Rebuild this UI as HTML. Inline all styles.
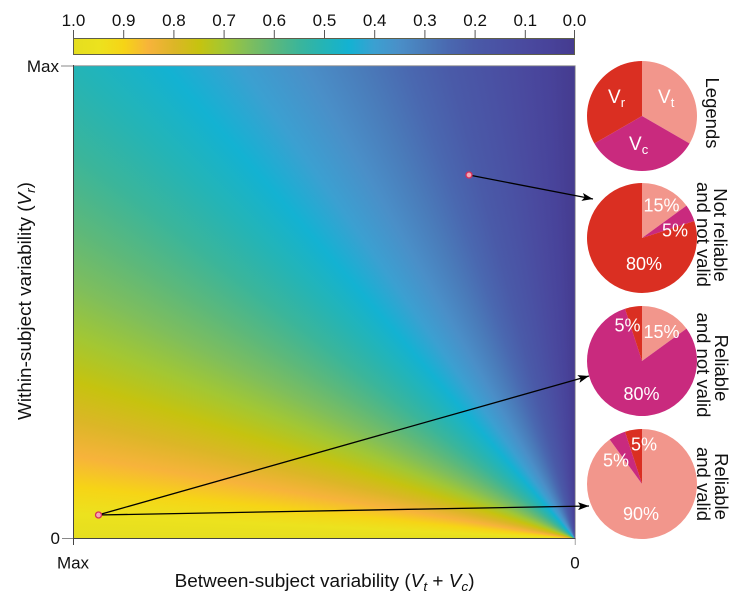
<!DOCTYPE html>
<html><head><meta charset="utf-8">
<style>
html,body{margin:0;padding:0;background:#fff;}
body{width:743px;height:597px;position:relative;overflow:hidden;font-family:"Liberation Sans",Arial,sans-serif;}
#hm{position:absolute;left:73px;top:65.5px;width:502px;height:473px;
background:conic-gradient(from 270deg at 100% 100%,
#e5de1f 0deg,#ece21e 2.84deg,#f6d416 5.98deg,#f7b33b 9.44deg,#dcb627 13.25deg,#c6c30f 17.44deg,
#a3c733 22deg,#7fbe5c 26.9deg,#5cb87b 32.13deg,#3bb59a 37.63deg,#24b4b6 43.3deg,#13b2d2 49.03deg,
#3ba0d1 54.72deg,#4a8fc8 60.26deg,#4a7cba 65.54deg,#4a68b0 70.52deg,#4a5aa8 75.14deg,#4a52a4 79.39deg,
#4a4a9f 83.27deg,#48439a 86.8deg,#453b8f 90deg,#453b8f 360deg);}
#cb{position:absolute;left:73px;top:37.5px;width:502px;height:17.5px;box-sizing:border-box;border:1px solid #5e5e4a;
background:linear-gradient(to right,#e5de1f 0%,#ece21e 5%,#f6d416 10%,#f7b33b 15%,#dcb627 20%,#c6c30f 25%,#a3c733 30%,#7fbe5c 35%,#5cb87b 40%,#3bb59a 45%,#24b4b6 50%,#13b2d2 55%,#3ba0d1 60%,#4a8fc8 65%,#4a7cba 70%,#4a68b0 75%,#4a5aa8 80%,#4a52a4 85%,#4a4a9f 90%,#48439a 95%,#453b8f 100%);}
svg{position:absolute;left:0;top:0;}
</style></head>
<body>
<div id="cb"></div>
<div id="hm"></div>
<svg width="743" height="597" viewBox="0 0 743 597" font-family="Liberation Sans, Arial, sans-serif">
<defs>
<marker id="ah" viewBox="0 0 11 8" refX="11" refY="4" markerWidth="11" markerHeight="8" markerUnits="userSpaceOnUse" orient="auto">
<path d="M0,0 L11,4 L0,8 L2.5,4 z" fill="#000"/>
</marker>
</defs>
<!-- colorbar ticks -->
<g stroke="#555" stroke-width="1">
<line x1="73.5" y1="30" x2="73.5" y2="38"/>
<line x1="123.7" y1="30" x2="123.7" y2="38"/>
<line x1="173.9" y1="30" x2="173.9" y2="38"/>
<line x1="224.1" y1="30" x2="224.1" y2="38"/>
<line x1="274.3" y1="30" x2="274.3" y2="38"/>
<line x1="324.5" y1="30" x2="324.5" y2="38"/>
<line x1="374.7" y1="30" x2="374.7" y2="38"/>
<line x1="424.9" y1="30" x2="424.9" y2="38"/>
<line x1="475.1" y1="30" x2="475.1" y2="38"/>
<line x1="525.3" y1="30" x2="525.3" y2="38"/>
<line x1="574.5" y1="30" x2="574.5" y2="38"/>
</g>
<g font-size="17" fill="#111" text-anchor="middle">
<text x="73.5" y="26">1.0</text>
<text x="123.7" y="26">0.9</text>
<text x="173.9" y="26">0.8</text>
<text x="224.1" y="26">0.7</text>
<text x="274.3" y="26">0.6</text>
<text x="324.5" y="26">0.5</text>
<text x="374.7" y="26">0.4</text>
<text x="424.9" y="26">0.3</text>
<text x="475.1" y="26">0.2</text>
<text x="525.3" y="26">0.1</text>
<text x="574.5" y="26">0.0</text>
</g>
<!-- frame / axes -->
<line x1="73" y1="65.8" x2="575.5" y2="65.8" stroke="#8a8a8a" stroke-width="0.8"/>
<line x1="575.2" y1="65.5" x2="575.2" y2="545" stroke="#8a8a8a" stroke-width="0.8"/>
<line x1="73.5" y1="65" x2="73.5" y2="545" stroke="#444" stroke-width="1"/>
<line x1="73" y1="538.5" x2="575.5" y2="538.5" stroke="#444" stroke-width="1"/>
<g stroke="#888" stroke-width="1">
<line x1="61" y1="66" x2="73" y2="66"/>
<line x1="62" y1="538.5" x2="73" y2="538.5"/>
</g>
<g font-size="17" fill="#111">
<text x="59" y="72" text-anchor="end">Max</text>
<text x="60" y="544" text-anchor="end">0</text>
<text x="73" y="568.5" text-anchor="middle">Max</text>
<text x="575" y="568.5" text-anchor="middle">0</text>
</g>
<text x="174.6" y="587" font-size="18" fill="#111" textLength="300" lengthAdjust="spacingAndGlyphs">Between-subject variability (<tspan font-style="italic">V</tspan><tspan font-style="italic" font-size="13" dy="4">t</tspan><tspan dy="-4"> + </tspan><tspan font-style="italic">V</tspan><tspan font-style="italic" font-size="13" dy="4">c</tspan><tspan dy="-4">)</tspan></text>
<text transform="translate(31,420) rotate(-90)" font-size="18" fill="#111" textLength="238" lengthAdjust="spacingAndGlyphs">Within-subject variability (<tspan font-style="italic">V</tspan><tspan font-style="italic" font-size="13" dy="4">r</tspan><tspan dy="-4">)</tspan></text>
<!-- arrows -->
<g stroke="#000" stroke-width="1.3" fill="none">
<line x1="469" y1="175" x2="593" y2="199" marker-end="url(#ah)"/>
<line x1="98" y1="515" x2="589" y2="376" marker-end="url(#ah)"/>
<line x1="98" y1="515" x2="589" y2="506" marker-end="url(#ah)"/>
</g>
<circle cx="469" cy="175" r="3" fill="#f4a9b6" stroke="#d8305a" stroke-width="1.3"/>
<circle cx="98.5" cy="515" r="3" fill="#f4a9b6" stroke="#d8305a" stroke-width="1.3"/>
<!-- pie 1 legend -->
<path d="M642,116 L642,61 A55,55 0 0,1 689.63,143.5 Z" fill="#f2968c"/>
<path d="M642,116 L689.63,143.5 A55,55 0 0,1 594.37,143.5 Z" fill="#c92a7e"/>
<path d="M642,116 L594.37,143.5 A55,55 0 0,1 642,61 Z" fill="#da2f22"/>
<g fill="#fff" font-size="19">
<text x="608" y="103">V<tspan font-size="13" dy="4">r</tspan></text>
<text x="658" y="103">V<tspan font-size="13" dy="4">t</tspan></text>
<text x="629" y="150">V<tspan font-size="13" dy="4">c</tspan></text>
</g>
<!-- pie 2 -->
<path d="M642,238 L642,183 A55,55 0 0,1 686.5,205.67 Z" fill="#f2968c"/>
<path d="M642,238 L686.5,205.67 A55,55 0 0,1 694.31,221 Z" fill="#c92a7e"/>
<path d="M642,238 L694.31,221 A55,55 0 1,1 642,183 Z" fill="#da2f22"/>
<!-- pie 3 -->
<path d="M642,361 L642,306 A55,55 0 0,1 686.5,328.67 Z" fill="#f2968c"/>
<path d="M642,361 L686.5,328.67 A55,55 0 1,1 625,308.69 Z" fill="#c92a7e"/>
<path d="M642,361 L625,308.69 A55,55 0 0,1 642,306 Z" fill="#da2f22"/>
<!-- pie 4 -->
<path d="M642,484 L642,429 A55,55 0 1,1 609.67,439.5 Z" fill="#f2968c"/>
<path d="M642,484 L609.67,439.5 A55,55 0 0,1 625,431.69 Z" fill="#c92a7e"/>
<path d="M642,484 L625,431.69 A55,55 0 0,1 642,429 Z" fill="#da2f22"/>
<g fill="#fff" font-size="18" text-anchor="middle">
<text x="661.5" y="211.5">15%</text>
<text x="675" y="236.5">5%</text>
<text x="644" y="270">80%</text>
<text x="627.5" y="331.5">5%</text>
<text x="661.5" y="338">15%</text>
<text x="641.5" y="400">80%</text>
<text x="644" y="450.5">5%</text>
<text x="616" y="466.5">5%</text>
<text x="641" y="520">90%</text>
</g>
<!-- side labels -->
<g font-size="18.5" fill="#111" text-anchor="middle">
<text transform="translate(706,113) rotate(90)">Legends</text>
<text transform="translate(714,235) rotate(90)">Not reliable</text>
<text transform="translate(697,234.5) rotate(90)">and not valid</text>
<text transform="translate(715,368) rotate(90)">Reliable</text>
<text transform="translate(697,365) rotate(90)">and not valid</text>
<text transform="translate(715,486.5) rotate(90)">Reliable</text>
<text transform="translate(697,484) rotate(90)">and valid</text>
</g>
</svg>
</body></html>
